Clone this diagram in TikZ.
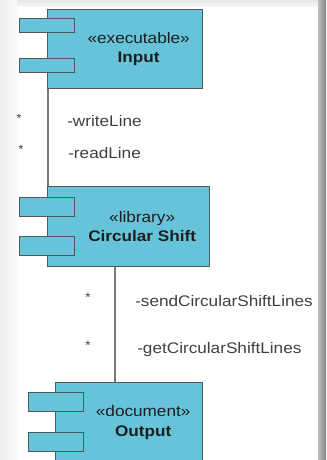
\documentclass[tikz,border=0pt]{standalone}
\usepackage{fontspec}
\setmainfont{Liberation Sans}[FakeStretch=1.12]
\usetikzlibrary{positioning,calc}
\definecolor{CompFill}{HTML}{66C3D9}
\definecolor{CompLine}{HTML}{4F585C}
\definecolor{WireGray}{HTML}{7A7A7A}
\definecolor{InkDark}{HTML}{1E1E1E}

\begin{document}
\begin{tikzpicture}[
    x=0.75pt, y=-0.75pt,
    font=\fontsize{11.5}{14.6}\selectfont,
    comp/.style={draw=CompLine, line width=1pt, fill=CompFill, anchor=north west, inner sep=0pt},
    port/.style={draw=CompLine, line width=1pt, fill=CompFill, anchor=north west, inner sep=0pt, minimum width=41.25pt},
    ctext/.style={align=center, text=InkDark, inner sep=0pt},
    wire/.style={draw=WireGray, line width=0.8pt},
    lbl/.style={anchor=base west, text=InkDark!85, inner sep=0pt},
    mult/.style={anchor=base, text=InkDark!85, inner sep=0pt, font=\fontsize{9}{10}\selectfont}
]
% page with its shadow
\useasboundingbox (0,0) rectangle (326,460);
\clip (0,0) rectangle (326,460);
\fill[white] (0,0) rectangle (326,460);
\shade[left color=black!7, right color=black!2] (0,0) rectangle (17,460);
\shade[left color=black!25, right color=black!48] (318,0) rectangle (326,460);
\shade[top color=black!9, bottom color=black!3] (17,0) rectangle (318,7);

% components
\node[comp, minimum width=116.25pt, minimum height=59.25pt] (input) at (47,9) {};
\node[comp, minimum width=121.5pt, minimum height=60pt] (shift) at (47,186) {};
\node[comp, minimum width=110.25pt, minimum height=60pt] (output) at (55,382) {};

% ports on the left side of each component
\node[port, minimum height=10.5pt] (inPortA) at ($(input.north west)+(-28,9)$) {};
\node[port, minimum height=10.5pt] (inPortB) at ($(input.north west)+(-28,49)$) {};
\node[port, minimum height=14.25pt] (shPortA) at ($(shift.north west)+(-28,11)$) {};
\node[port, minimum height=14.25pt] (shPortB) at ($(shift.north west)+(-28,50)$) {};
\node[port, minimum height=14.25pt] (outPortA) at ($(output.north west)+(-27,10)$) {};
\node[port, minimum height=14.25pt] (outPortB) at ($(output.north west)+(-27,50)$) {};

% stereotype and name
\node[ctext] (inputT) at ($(input.center)+(13.5,0)$) {«executable»\\\textbf{Input}};
\node[ctext] (shiftT) at ($(shift.center)+(13.5,0)$) {«library»\\\textbf{Circular Shift}};
\node[ctext] (outputT) at ($(output.center)+(14,0)$) {«document»\\\textbf{Output}};

% connectors
\draw[wire] ($(input.south west)+(1,0)$) -- ($(shift.north west)+(1,0)$);
\coordinate (shiftOut) at ($(shift.south west)+(68,0)$);
\draw[wire] (shiftOut) -- (shiftOut |- output.north);

% connector ends
\node[mult] (m1) at (19,122) {*};
\node[mult] (m2) at (21,153) {*};
\node[lbl] (writeL) at (67,126) {-writeLine};
\node[lbl] (readL) at (68,158) {-readLine};
\node[mult] (m3) at (88,301) {*};
\node[mult] (m4) at (88,349) {*};
\node[lbl] (sendL) at (135,306) {-sendCircularShiftLines};
\node[lbl] (getL) at (137,353) {-getCircularShiftLines};
\end{tikzpicture}
\end{document}
